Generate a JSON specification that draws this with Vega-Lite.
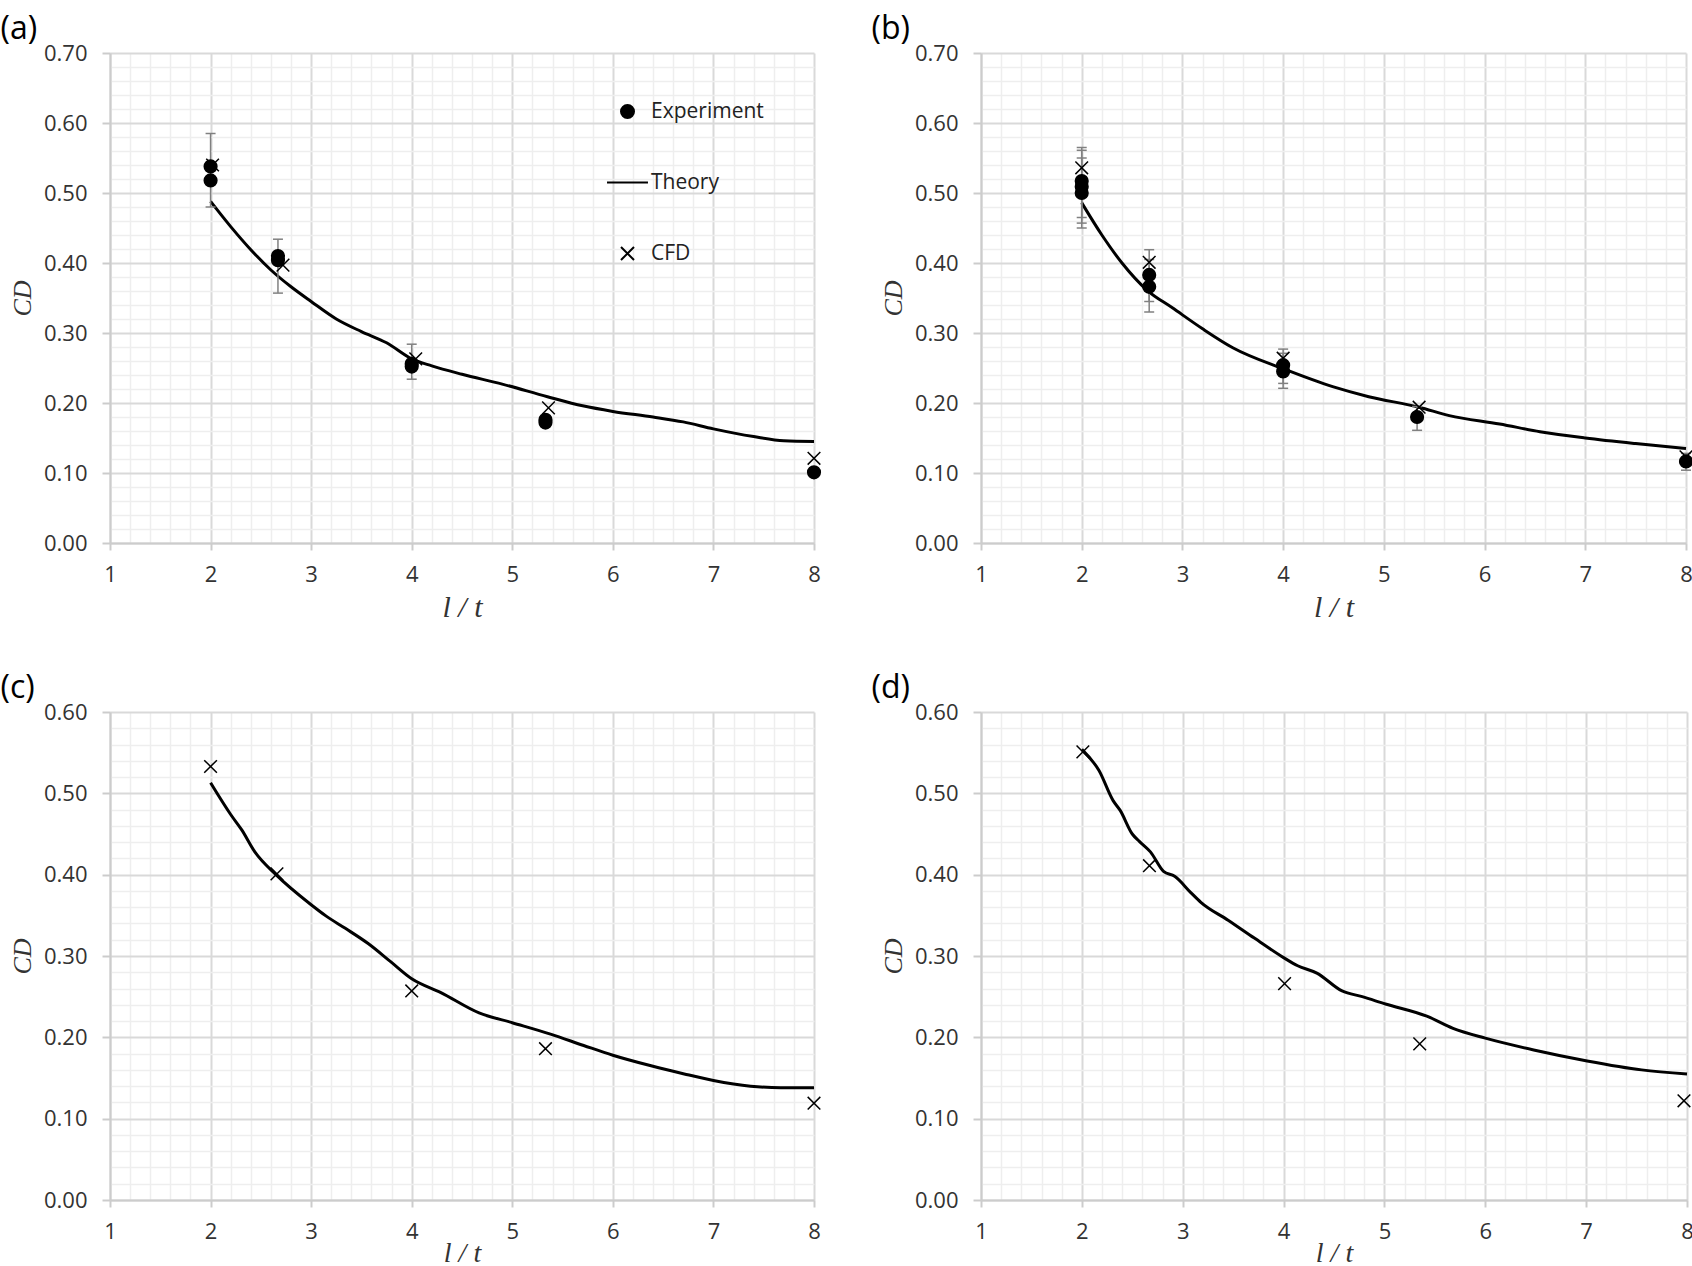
{
"$schema": "https://vega.github.io/schema/vega-lite/v6.json",
"padding": {"left": 0, "top": 13, "right": 0, "bottom": 0},
"background": "white",
"datasets": {
"theory": [
{"p":"a","x":2.0,"y":0.488},{"p":"a","x":2.2,"y":0.452},{"p":"a","x":2.4,"y":0.419},{"p":"a","x":2.6,"y":0.390},{"p":"a","x":2.8,"y":0.366},{"p":"a","x":3.0,"y":0.345},{"p":"a","x":3.25,"y":0.320},{"p":"a","x":3.5,"y":0.302},{"p":"a","x":3.75,"y":0.286},{"p":"a","x":4.0,"y":0.263},{"p":"a","x":4.2,"y":0.253},{"p":"a","x":4.5,"y":0.241},{"p":"a","x":4.9,"y":0.227},{"p":"a","x":5.35,"y":0.209},{"p":"a","x":5.7,"y":0.196},{"p":"a","x":6.0,"y":0.188},{"p":"a","x":6.4,"y":0.180},{"p":"a","x":6.7,"y":0.173},{"p":"a","x":7.0,"y":0.163},{"p":"a","x":7.4,"y":0.152},{"p":"a","x":7.7,"y":0.146},{"p":"a","x":8.0,"y":0.145},
{"p":"b","x":2.0,"y":0.486},{"p":"b","x":2.2,"y":0.440},{"p":"b","x":2.4,"y":0.400},{"p":"b","x":2.65,"y":0.361},{"p":"b","x":2.9,"y":0.336},{"p":"b","x":3.2,"y":0.306},{"p":"b","x":3.5,"y":0.279},{"p":"b","x":4.0,"y":0.249},{"p":"b","x":4.5,"y":0.223},{"p":"b","x":4.85,"y":0.209},{"p":"b","x":5.35,"y":0.194},{"p":"b","x":5.65,"y":0.182},{"p":"b","x":6.15,"y":0.170},{"p":"b","x":6.55,"y":0.159},{"p":"b","x":7.0,"y":0.150},{"p":"b","x":7.5,"y":0.142},{"p":"b","x":8.0,"y":0.135},
{"p":"c","x":2.0,"y":0.513},{"p":"c","x":2.2,"y":0.474},{"p":"c","x":2.31,"y":0.455},{"p":"c","x":2.44,"y":0.428},{"p":"c","x":2.65,"y":0.400},{"p":"c","x":3.0,"y":0.363},{"p":"c","x":3.15,"y":0.349},{"p":"c","x":3.34,"y":0.334},{"p":"c","x":3.57,"y":0.315},{"p":"c","x":3.79,"y":0.293},{"p":"c","x":4.0,"y":0.272},{"p":"c","x":4.29,"y":0.255},{"p":"c","x":4.67,"y":0.230},{"p":"c","x":5.0,"y":0.218},{"p":"c","x":5.38,"y":0.204},{"p":"c","x":5.71,"y":0.190},{"p":"c","x":6.0,"y":0.178},{"p":"c","x":6.38,"y":0.165},{"p":"c","x":6.71,"y":0.155},{"p":"c","x":7.0,"y":0.147},{"p":"c","x":7.37,"y":0.140},{"p":"c","x":7.67,"y":0.138},{"p":"c","x":8.0,"y":0.138},
{"p":"d","x":2.0,"y":0.554},{"p":"d","x":2.17,"y":0.528},{"p":"d","x":2.31,"y":0.491},{"p":"d","x":2.38,"y":0.479},{"p":"d","x":2.5,"y":0.450},{"p":"d","x":2.57,"y":0.441},{"p":"d","x":2.68,"y":0.428},{"p":"d","x":2.81,"y":0.404},{"p":"d","x":2.92,"y":0.398},{"p":"d","x":3.08,"y":0.378},{"p":"d","x":3.18,"y":0.366},{"p":"d","x":3.45,"y":0.344},{"p":"d","x":3.71,"y":0.322},{"p":"d","x":4.0,"y":0.298},{"p":"d","x":4.14,"y":0.288},{"p":"d","x":4.33,"y":0.279},{"p":"d","x":4.58,"y":0.257},{"p":"d","x":4.78,"y":0.250},{"p":"d","x":5.01,"y":0.241},{"p":"d","x":5.42,"y":0.226},{"p":"d","x":5.68,"y":0.211},{"p":"d","x":6.0,"y":0.199},{"p":"d","x":6.48,"y":0.1845},{"p":"d","x":7.01,"y":0.171},{"p":"d","x":7.55,"y":0.160},{"p":"d","x":8.0,"y":0.155}
],
"pts": [
{"p":"a","s":"Experiment","x":2.0,"y":0.538,"lo":0.480,"hi":0.585},{"p":"a","s":"Experiment","x":2.0,"y":0.518},{"p":"a","s":"Experiment","x":2.67,"y":0.410,"lo":0.357,"hi":0.434},{"p":"a","s":"Experiment","x":2.67,"y":0.404},{"p":"a","s":"Experiment","x":4.0,"y":0.256,"lo":0.234,"hi":0.284},{"p":"a","s":"Experiment","x":4.0,"y":0.252},{"p":"a","s":"Experiment","x":5.33,"y":0.176},{"p":"a","s":"Experiment","x":5.33,"y":0.172},{"p":"a","s":"Experiment","x":8.0,"y":0.101},
{"p":"a","s":"CFD","x":2.02,"y":0.540},{"p":"a","s":"CFD","x":2.72,"y":0.397},{"p":"a","s":"CFD","x":4.04,"y":0.263},{"p":"a","s":"CFD","x":5.36,"y":0.193},{"p":"a","s":"CFD","x":8.0,"y":0.121},
{"p":"b","s":"Experiment","x":2.0,"y":0.517,"lo":0.465,"hi":0.565},{"p":"b","s":"Experiment","x":2.0,"y":0.509,"lo":0.457,"hi":0.561},{"p":"b","s":"Experiment","x":2.0,"y":0.500,"lo":0.450,"hi":0.550},{"p":"b","s":"Experiment","x":2.67,"y":0.383,"lo":0.345,"hi":0.419},{"p":"b","s":"Experiment","x":2.67,"y":0.366,"lo":0.330,"hi":0.405},{"p":"b","s":"Experiment","x":4.0,"y":0.254,"lo":0.228,"hi":0.277},{"p":"b","s":"Experiment","x":4.0,"y":0.245,"lo":0.221,"hi":0.271},{"p":"b","s":"Experiment","x":5.33,"y":0.180,"lo":0.161,"hi":0.195},{"p":"b","s":"Experiment","x":8.0,"y":0.1165,"lo":0.104,"hi":0.128},
{"p":"b","s":"CFD","x":2.0,"y":0.536},{"p":"b","s":"CFD","x":2.67,"y":0.401},{"p":"b","s":"CFD","x":4.0,"y":0.264},{"p":"b","s":"CFD","x":5.35,"y":0.194},{"p":"b","s":"CFD","x":8.0,"y":0.123},
{"p":"c","s":"CFD","x":2.0,"y":0.533},{"p":"c","s":"CFD","x":2.66,"y":0.401},{"p":"c","s":"CFD","x":4.0,"y":0.257},{"p":"c","s":"CFD","x":5.33,"y":0.186},{"p":"c","s":"CFD","x":8.0,"y":0.119},
{"p":"d","s":"CFD","x":2.01,"y":0.551},{"p":"d","s":"CFD","x":2.67,"y":0.411},{"p":"d","s":"CFD","x":4.01,"y":0.266},{"p":"d","s":"CFD","x":5.35,"y":0.192},{"p":"d","s":"CFD","x":7.97,"y":0.122}
]
},
"vconcat": [
{"hconcat": [
{
"width": 704, "height": 490,
"title": {"text": "(a)", "anchor": "start", "frame": "bounds", "dx": -9, "offset": -4},
"layer": [
{"data": {"name": "theory"}, "transform": [{"filter": "datum.p === 'a'"}],
 "mark": {"type": "line", "color": "black", "strokeWidth": 3, "interpolate": "monotone"},
 "encoding": {
  "x": {"field": "x", "type": "quantitative", "scale": {"domain": [1, 8], "nice": false, "zero": false}, "axis": {"orient": "bottom", "values": [1.2,1.4,1.6,1.8,2.2,2.4,2.6,2.8,3.2,3.4,3.6,3.8,4.2,4.4,4.6,4.8,5.2,5.4,5.6,5.8,6.2,6.4,6.6,6.8,7.2,7.4,7.6,7.8], "grid": true, "gridColor": "#eeeeee", "gridWidth": 1.5, "labels": false, "ticks": false, "domain": false, "title": null}},
  "y": {"field": "y", "type": "quantitative", "scale": {"domain": [0, 0.7], "nice": false, "zero": false}, "axis": {"orient": "left", "values": [0.02,0.04,0.06,0.08,0.12,0.14,0.16,0.18,0.22,0.24,0.26,0.28,0.32,0.34,0.36,0.38,0.42,0.44,0.46,0.48,0.52,0.54,0.56,0.58,0.62,0.64,0.66,0.68], "grid": true, "gridColor": "#eeeeee", "gridWidth": 1.5, "labels": false, "ticks": false, "domain": false, "title": null}}
 }},
{"data": {"name": "pts"}, "transform": [{"filter": "datum.p === 'a' && isValid(datum.lo)"}],
 "mark": {"type": "rule", "color": "#808080", "strokeWidth": 1.5},
 "encoding": {
  "x": {"field": "x", "type": "quantitative", "scale": {"domain": [1, 8], "nice": false, "zero": false}, "axis": null},
  "y": {"field": "lo", "type": "quantitative", "scale": {"domain": [0, 0.7], "nice": false, "zero": false}, "axis": null},
  "y2": {"field": "hi"}
 }},
{"data": {"name": "pts"}, "transform": [{"filter": "datum.p === 'a' && isValid(datum.lo)"}],
 "mark": {"type": "tick", "orient": "horizontal", "size": 10, "thickness": 1.5, "color": "#808080", "opacity": 1},
 "encoding": {
  "x": {"field": "x", "type": "quantitative", "scale": {"domain": [1, 8], "nice": false, "zero": false}, "axis": null},
  "y": {"field": "lo", "type": "quantitative", "scale": {"domain": [0, 0.7], "nice": false, "zero": false}, "axis": null}
 }},
{"data": {"name": "pts"}, "transform": [{"filter": "datum.p === 'a' && isValid(datum.lo)"}],
 "mark": {"type": "tick", "orient": "horizontal", "size": 10, "thickness": 1.5, "color": "#808080", "opacity": 1},
 "encoding": {
  "x": {"field": "x", "type": "quantitative", "scale": {"domain": [1, 8], "nice": false, "zero": false}, "axis": null},
  "y": {"field": "hi", "type": "quantitative", "scale": {"domain": [0, 0.7], "nice": false, "zero": false}, "axis": null}
 }},
{"data": {"name": "pts"}, "transform": [{"filter": "datum.p === 'a'"}],
 "mark": {"type": "point", "filled": true, "fill": "black", "stroke": "black", "strokeWidth": 1.5, "size": 160, "opacity": 1},
 "encoding": {
  "x": {"field": "x", "type": "quantitative", "scale": {"domain": [1, 8], "nice": false, "zero": false}, "axis": {"orient": "bottom", "values": [1,2,3,4,5,6,7,8], "format": "d", "title": "l / t", "grid": true}},
  "y": {"field": "y", "type": "quantitative", "scale": {"domain": [0, 0.7], "nice": false, "zero": false}, "axis": {"orient": "left", "values": [0,0.1,0.2,0.3,0.4,0.5,0.6,0.7], "format": ".2f", "title": "CD", "grid": true}},
  "shape": {"field": "s", "type": "nominal", "scale": {"domain": ["Experiment", "Theory", "CFD"], "range": ["circle", "M-3.15,0L3.15,0", "M-1,-1L1,1M1,-1L-1,1"]},
   "legend": {"title": null, "orient": "none", "legendX": 507, "legendY": 48, "padding": 0, "symbolSize": 169, "symbolStrokeWidth": 2, "labelFont": "Open Sans", "labelFontSize": 21, "labelColor": "#222222", "labelOffset": 13, "rowPadding": 49,
    "encode": {"symbols": {"update": {
      "fill": {"signal": "datum.value === 'Experiment' ? 'black' : 'transparent'"},
      "stroke": {"value": "black"},
      "strokeWidth": {"signal": "datum.value === 'Theory' ? 2.5 : 1.5"},
      "opacity": {"value": 1}}}}}}
 }}
],
"resolve": {"axis": {"x": "independent", "y": "independent"}}
},
{
"width": 705, "height": 490,
"title": {"text": "(b)", "anchor": "start", "frame": "bounds", "dx": -9, "offset": -4},
"layer": [
{"data": {"name": "theory"}, "transform": [{"filter": "datum.p === 'b'"}],
 "mark": {"type": "line", "color": "black", "strokeWidth": 3, "interpolate": "monotone"},
 "encoding": {
  "x": {"field": "x", "type": "quantitative", "scale": {"domain": [1, 8], "nice": false, "zero": false}, "axis": {"orient": "bottom", "values": [1.2,1.4,1.6,1.8,2.2,2.4,2.6,2.8,3.2,3.4,3.6,3.8,4.2,4.4,4.6,4.8,5.2,5.4,5.6,5.8,6.2,6.4,6.6,6.8,7.2,7.4,7.6,7.8], "grid": true, "gridColor": "#eeeeee", "gridWidth": 1.5, "labels": false, "ticks": false, "domain": false, "title": null}},
  "y": {"field": "y", "type": "quantitative", "scale": {"domain": [0, 0.7], "nice": false, "zero": false}, "axis": {"orient": "left", "values": [0.02,0.04,0.06,0.08,0.12,0.14,0.16,0.18,0.22,0.24,0.26,0.28,0.32,0.34,0.36,0.38,0.42,0.44,0.46,0.48,0.52,0.54,0.56,0.58,0.62,0.64,0.66,0.68], "grid": true, "gridColor": "#eeeeee", "gridWidth": 1.5, "labels": false, "ticks": false, "domain": false, "title": null}}
 }},
{"data": {"name": "pts"}, "transform": [{"filter": "datum.p === 'b' && isValid(datum.lo)"}],
 "mark": {"type": "rule", "color": "#808080", "strokeWidth": 1.5},
 "encoding": {
  "x": {"field": "x", "type": "quantitative", "scale": {"domain": [1, 8], "nice": false, "zero": false}, "axis": null},
  "y": {"field": "lo", "type": "quantitative", "scale": {"domain": [0, 0.7], "nice": false, "zero": false}, "axis": null},
  "y2": {"field": "hi"}
 }},
{"data": {"name": "pts"}, "transform": [{"filter": "datum.p === 'b' && isValid(datum.lo)"}],
 "mark": {"type": "tick", "orient": "horizontal", "size": 10, "thickness": 1.5, "color": "#808080", "opacity": 1},
 "encoding": {
  "x": {"field": "x", "type": "quantitative", "scale": {"domain": [1, 8], "nice": false, "zero": false}, "axis": null},
  "y": {"field": "lo", "type": "quantitative", "scale": {"domain": [0, 0.7], "nice": false, "zero": false}, "axis": null}
 }},
{"data": {"name": "pts"}, "transform": [{"filter": "datum.p === 'b' && isValid(datum.lo)"}],
 "mark": {"type": "tick", "orient": "horizontal", "size": 10, "thickness": 1.5, "color": "#808080", "opacity": 1},
 "encoding": {
  "x": {"field": "x", "type": "quantitative", "scale": {"domain": [1, 8], "nice": false, "zero": false}, "axis": null},
  "y": {"field": "hi", "type": "quantitative", "scale": {"domain": [0, 0.7], "nice": false, "zero": false}, "axis": null}
 }},
{"data": {"name": "pts"}, "transform": [{"filter": "datum.p === 'b'"}],
 "mark": {"type": "point", "filled": true, "fill": "black", "stroke": "black", "strokeWidth": 1.5, "size": 160, "opacity": 1},
 "encoding": {
  "x": {"field": "x", "type": "quantitative", "scale": {"domain": [1, 8], "nice": false, "zero": false}, "axis": {"orient": "bottom", "values": [1,2,3,4,5,6,7,8], "format": "d", "title": "l / t", "grid": true}},
  "y": {"field": "y", "type": "quantitative", "scale": {"domain": [0, 0.7], "nice": false, "zero": false}, "axis": {"orient": "left", "values": [0,0.1,0.2,0.3,0.4,0.5,0.6,0.7], "format": ".2f", "title": "CD", "grid": true}},
  "shape": {"field": "s", "type": "nominal", "scale": {"domain": ["Experiment", "Theory", "CFD"], "range": ["circle", "M-3.15,0L3.15,0", "M-1,-1L1,1M1,-1L-1,1"]}, "legend": null}
 }}
],
"resolve": {"axis": {"x": "independent", "y": "independent"}}
}
], "spacing": 47, "resolve": {"scale": {"shape": "independent"}, "legend": {"shape": "independent"}}},
{"hconcat": [
{
"width": 704, "height": 488,
"title": {"text": "(c)", "anchor": "start", "frame": "bounds", "dx": -9, "offset": -4},
"layer": [
{"data": {"name": "theory"}, "transform": [{"filter": "datum.p === 'c'"}],
 "mark": {"type": "line", "color": "black", "strokeWidth": 3, "interpolate": "monotone"},
 "encoding": {
  "x": {"field": "x", "type": "quantitative", "scale": {"domain": [1, 8], "nice": false, "zero": false}, "axis": {"orient": "bottom", "values": [1.2,1.4,1.6,1.8,2.2,2.4,2.6,2.8,3.2,3.4,3.6,3.8,4.2,4.4,4.6,4.8,5.2,5.4,5.6,5.8,6.2,6.4,6.6,6.8,7.2,7.4,7.6,7.8], "grid": true, "gridColor": "#eeeeee", "gridWidth": 1.5, "labels": false, "ticks": false, "domain": false, "title": null}},
  "y": {"field": "y", "type": "quantitative", "scale": {"domain": [0, 0.6], "nice": false, "zero": false}, "axis": {"orient": "left", "values": [0.02,0.04,0.06,0.08,0.12,0.14,0.16,0.18,0.22,0.24,0.26,0.28,0.32,0.34,0.36,0.38,0.42,0.44,0.46,0.48,0.52,0.54,0.56,0.58], "grid": true, "gridColor": "#eeeeee", "gridWidth": 1.5, "labels": false, "ticks": false, "domain": false, "title": null}}
 }},
{"data": {"name": "pts"}, "transform": [{"filter": "datum.p === 'c'"}],
 "mark": {"type": "point", "filled": true, "fill": "black", "stroke": "black", "strokeWidth": 1.5, "size": 160, "opacity": 1},
 "encoding": {
  "x": {"field": "x", "type": "quantitative", "scale": {"domain": [1, 8], "nice": false, "zero": false}, "axis": {"orient": "bottom", "values": [1,2,3,4,5,6,7,8], "format": "d", "title": "l / t", "grid": true, "titlePadding": -3, "titleFontSize": 28}},
  "y": {"field": "y", "type": "quantitative", "scale": {"domain": [0, 0.6], "nice": false, "zero": false}, "axis": {"orient": "left", "values": [0,0.1,0.2,0.3,0.4,0.5,0.6], "format": ".2f", "title": "CD", "grid": true}},
  "shape": {"field": "s", "type": "nominal", "scale": {"domain": ["Experiment", "Theory", "CFD"], "range": ["circle", "M-3.15,0L3.15,0", "M-1,-1L1,1M1,-1L-1,1"]}, "legend": null}
 }}
],
"resolve": {"axis": {"x": "independent", "y": "independent"}}
},
{
"width": 706, "height": 488,
"title": {"text": "(d)", "anchor": "start", "frame": "bounds", "dx": -9, "offset": -4},
"layer": [
{"data": {"name": "theory"}, "transform": [{"filter": "datum.p === 'd'"}],
 "mark": {"type": "line", "color": "black", "strokeWidth": 3, "interpolate": "monotone"},
 "encoding": {
  "x": {"field": "x", "type": "quantitative", "scale": {"domain": [1, 8], "nice": false, "zero": false}, "axis": {"orient": "bottom", "values": [1.2,1.4,1.6,1.8,2.2,2.4,2.6,2.8,3.2,3.4,3.6,3.8,4.2,4.4,4.6,4.8,5.2,5.4,5.6,5.8,6.2,6.4,6.6,6.8,7.2,7.4,7.6,7.8], "grid": true, "gridColor": "#eeeeee", "gridWidth": 1.5, "labels": false, "ticks": false, "domain": false, "title": null}},
  "y": {"field": "y", "type": "quantitative", "scale": {"domain": [0, 0.6], "nice": false, "zero": false}, "axis": {"orient": "left", "values": [0.02,0.04,0.06,0.08,0.12,0.14,0.16,0.18,0.22,0.24,0.26,0.28,0.32,0.34,0.36,0.38,0.42,0.44,0.46,0.48,0.52,0.54,0.56,0.58], "grid": true, "gridColor": "#eeeeee", "gridWidth": 1.5, "labels": false, "ticks": false, "domain": false, "title": null}}
 }},
{"data": {"name": "pts"}, "transform": [{"filter": "datum.p === 'd'"}],
 "mark": {"type": "point", "filled": true, "fill": "black", "stroke": "black", "strokeWidth": 1.5, "size": 160, "opacity": 1},
 "encoding": {
  "x": {"field": "x", "type": "quantitative", "scale": {"domain": [1, 8], "nice": false, "zero": false}, "axis": {"orient": "bottom", "values": [1,2,3,4,5,6,7,8], "format": "d", "title": "l / t", "grid": true, "titlePadding": -3, "titleFontSize": 28}},
  "y": {"field": "y", "type": "quantitative", "scale": {"domain": [0, 0.6], "nice": false, "zero": false}, "axis": {"orient": "left", "values": [0,0.1,0.2,0.3,0.4,0.5,0.6], "format": ".2f", "title": "CD", "grid": true}},
  "shape": {"field": "s", "type": "nominal", "scale": {"domain": ["Experiment", "Theory", "CFD"], "range": ["circle", "M-3.15,0L3.15,0", "M-1,-1L1,1M1,-1L-1,1"]}, "legend": null}
 }}
],
"resolve": {"axis": {"x": "independent", "y": "independent"}}
}
], "spacing": 47, "resolve": {"scale": {"shape": "independent"}, "legend": {"shape": "independent"}}}
],
"spacing": 50,
"resolve": {"scale": {"shape": "independent"}, "legend": {"shape": "independent"}},
"config": {
 "view": {"stroke": null},
 "font": "Open Sans",
 "title": {"font": "Open Sans", "fontSize": 32, "fontWeight": "normal", "color": "black"},
 "axis": {"labelFont": "Open Sans", "labelFontSize": 22, "labelColor": "#333333", "titleFont": "Liberation Serif", "titleFontStyle": "italic", "titleFontWeight": "normal", "titleFontSize": 28, "titleColor": "#333333", "gridColor": "#d9d9d9", "gridWidth": 2, "domainColor": "#cccccc", "domainWidth": 2, "tickColor": "#cccccc", "tickWidth": 2, "labelPadding": 15},
 "axisX": {"tickSize": 7, "labelPadding": 14, "titlePadding": 7, "titleFontSize": 30, "labelFlush": false},
 "axisY": {"tickSize": 8, "labelPadding": 15, "titlePadding": 8, "titleFontSize": 26}
}
}
